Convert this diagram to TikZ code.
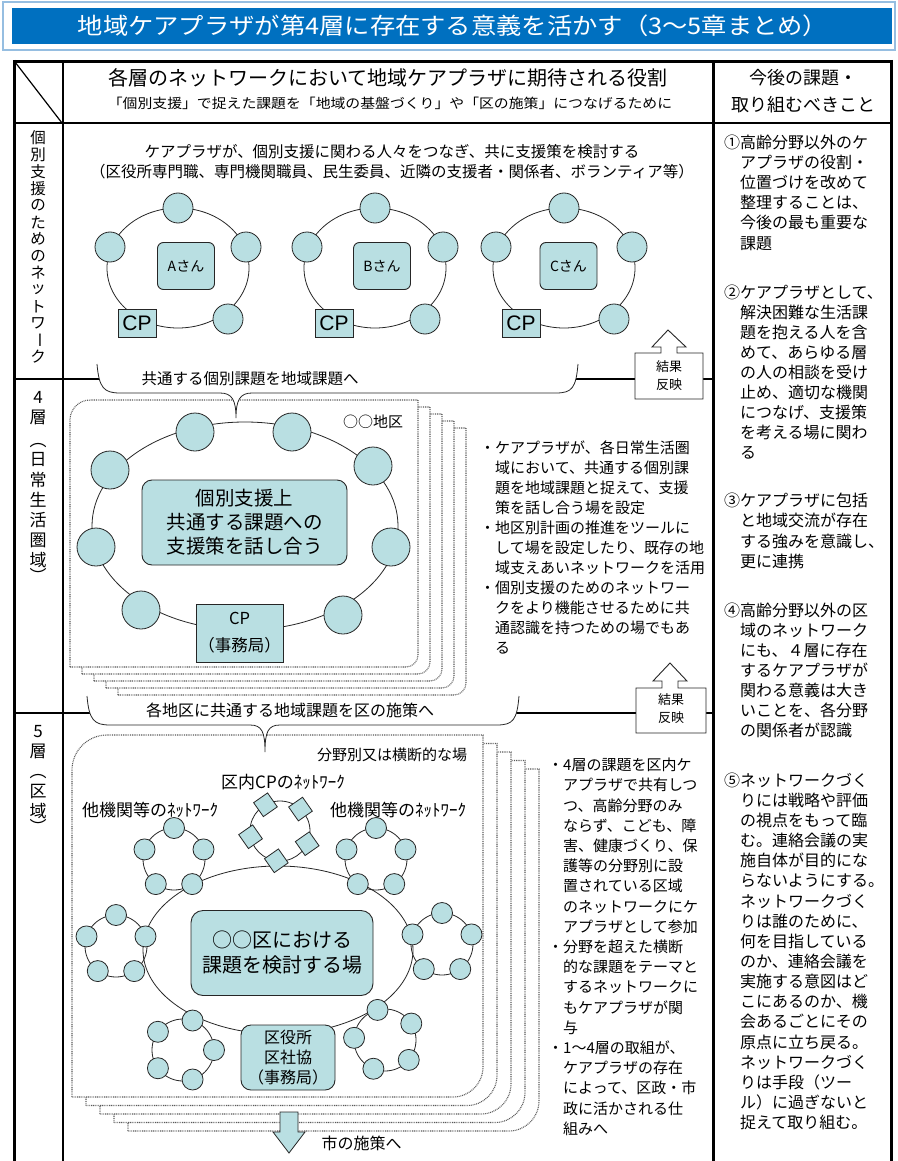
\documentclass[tikz,border=0pt]{standalone}
\usepackage{fontspec}
\setmainfont{Noto Sans CJK JP}
\newfontfamily\arialf{Liberation Sans}
\usetikzlibrary{calc}
\definecolor{tealc}{RGB}{185,223,226}
\definecolor{titleblue}{RGB}{0,112,192}
\definecolor{framebl}{RGB}{150,190,225}
\newcommand\jfs[2]{\fontsize{#1}{#2}\selectfont}
\newcommand\vbar{\rotatebox[origin=c]{-90}{ー}}
\newcommand\pgpath[6]{({#1},{#4}) -- ({#1},{#2+#5}) .. controls ({#1},{#2+0.45*#5}) and ({#1+0.45*#5},{#2}) .. ({#1+#5},{#2}) -- ({#3},{#2}) -- ({#3},{#4-#6}) .. controls ({#3},{#4-0.45*#6}) and ({#3-0.45*#6},{#4}) .. ({#3-#6},{#4}) -- cycle}
\tikzset{
  pagest/.style={draw=black!65, dash pattern=on 0.9pt off 0.9pt, line width=1.1pt, fill=white},
  net/.style={draw=black!85, line width=0.8pt},
  bigc/.style={circle, fill=tealc, draw=black!85, line width=0.8pt, minimum size=38pt, inner sep=0pt},
  midc/.style={circle, fill=tealc, draw=black!85, line width=0.8pt, minimum size=30pt, inner sep=0pt},
  smc/.style={circle, fill=tealc, draw=black!85, line width=0.8pt, minimum size=21pt, inner sep=0pt},
  dia/.style={rectangle, fill=tealc, draw=black!85, line width=0.8pt, minimum size=17pt, inner sep=0pt, rotate=35},
  tealbox/.style={fill=tealc, draw=black!85, line width=0.9pt, inner sep=0pt},
  t15/.style={font=\jfs{15}{20}, inner sep=0pt, text height=12.9pt, text depth=1.5pt, anchor=west},
  t16/.style={font=\jfs{16}{20}, inner sep=0pt, text height=13.8pt, text depth=1.6pt, anchor=west},
  vt/.style={inner sep=0pt, font=\jfs{15.5}{16}},
  vtb/.style={inner sep=0pt, font=\jfs{17}{18}},
  res/.style={draw=black!85, line width=0.9pt, fill=white},
  brace/.style={draw=black!85, line width=0.8pt, fill=white},
}
\begin{document}
\begin{tikzpicture}[x=1pt,y=-1pt]
\useasboundingbox (0,0) rectangle (897,1161);
% title
\draw[framebl, line width=2.5pt, fill=white] (3,2) rectangle (895,50);
\fill[titleblue] (12,8) rectangle (892,44);
\node[text=white, font=\jfs{23}{26}] (title) at (453,26) {\scalebox{1.1}[1]{地域ケアプラザが第4層に存在する意義を活かす（3～5章まとめ）}};
% table
\draw[line width=3pt] (13,61.5) -- (893,61.5);
\draw[line width=3pt] (14.5,60) -- (14.5,1170);
\draw[line width=3pt] (891.5,60) -- (891.5,1170);
\draw[line width=2pt] (62.5,61) -- (62.5,1170);
\draw[line width=2.5pt] (713.5,61) -- (713.5,1170);
\draw[line width=2pt] (14,123.5) -- (892,123.5);
\draw[line width=2.5pt] (14,379) -- (713,379);
\draw[line width=2.5pt] (14,713) -- (713,713);
\draw[line width=1.2pt] (15,62) -- (62,123);
% header
\node[font=\jfs{20}{24}] (h1) at (388,78) {各層のネットワークにおいて地域ケアプラザに期待される役割};
\node[font=\jfs{13.5}{16}] (h2) at (390,103) {\scalebox{1.1}[1]{「個別支援」で捉えた課題を「地域の基盤づくり」や「区の施策」につなげるために}};
\node[font=\jfs{18}{22}] (h3) at (803,78) {今後の課題・};
\node[font=\jfs{18}{22}] (h4) at (803,105) {取り組むべきこと};
% vertical labels
\foreach \c [count=\i from 0] in {個,別,支,援,の,た,め,の,ネ,ッ,ト,ワ,\vbar,ク}
  \node[vt] (v1-\i) at (38,{138+16.85*\i}) {\c};
\foreach \c/\y [count=\i] in {4/397,層/417,︵/446,日/460,常/480,生/500,活/520,圏/540,域/560,︶/575}
  \node[vtb] (v2-\i) at (38,\y) {\c};
\foreach \c/\y [count=\i] in {5/732,層/751,︵/777,区/792,域/811,︶/826}
  \node[vtb] (v3-\i) at (38,\y) {\c};
% ---------- row 1
\node[font=\jfs{15.5}{20}] (r1a) at (392,152) {ケアプラザが、個別支援に関わる人々をつなぎ、共に支援策を検討する};
\node[font=\jfs{15.5}{20}] (r1b) at (392,172) {（区役所専門職、専門機関職員、民生委員、近隣の支援者・関係者、ボランティア等）};
\foreach \cx/\nm/\off/\cpo in {178/A/8/-41, 375/B/7/-41, 564/C/4.5/-43} {
  \draw[net] (\cx,268) ellipse [x radius=71, y radius=60];
  \node[midc] (\nm-t) at (\cx,208) {};
  \node[midc] (\nm-l) at ({\cx-68},247) {};
  \node[midc] (\nm-r) at ({\cx+68},247) {};
  \node[midc] (\nm-b) at ({\cx+50},319) {};
  \node[tealbox, rounded corners=6pt, minimum width=57pt, minimum height=47pt, font=\jfs{14}{16}] (\nm-p) at ({\cx+\off},266) {\nm さん};
  \node[tealbox, minimum width=38pt, minimum height=28pt, font=\arialf\fontsize{21}{24}\selectfont] (\nm-cp) at ({\cx+\cpo},323) {CP};
}
% ---------- row 2
\foreach \k in {4,3,2,1,0}
  \path[pagest] \pgpath{70+12*\k}{400+7*\k}{418+12*\k}{667+7*\k}{20}{12};
\draw[net] (245,526) ellipse [x radius=153, y radius=104];
\foreach \x/\y [count=\i] in {195/432, 292/432, 373/466, 391/547, 343/615, 141/610, 96/547, 110/470}
  \node[bigc] (c4-\i) at (\x,\y) {};
\node[tealbox, rounded corners=10pt, minimum width=205pt, minimum height=85pt, align=center, font=\jfs{19.5}{24}] (c4box) at (244.5,522.5) {個別支援上\\共通する課題への\\支援策を話し合う};
\node[tealbox, minimum width=87pt, minimum height=58pt, align=center, font=\jfs{16.5}{27}] (c4cp) at (239.5,633) {CP\\（事務局）};
\node[font=\jfs{15}{18}] (dist) at (373,422) {○○地区};
% brace 1
\path[brace] (97,364) .. controls (99,388) and (104,393) .. (120,393) -- (220,393) .. controls (232,393) and (236,400) .. (236,418) .. controls (236,400) and (240,393) .. (252,393) -- (556,393) .. controls (572,393) and (576,388) .. (578,364);
\node[font=\jfs{15.5}{18}] (br1) at (250,379) {共通する個別課題を地域課題へ};
% result box 1
\path[res] (635,399) -- (635,353) -- (661,353) -- (661,347) -- (652,347) -- (668,330) -- (686,347) -- (677,347) -- (677,353) -- (703,353) -- (703,399) -- cycle;
\node[font=\jfs{13}{18}, align=center] (kk1) at (669,376) {結果\\反映};
% row 2 text
\foreach \t [count=\i from 0] in {
  \llap{・}ケアプラザが、各日常生活圏,
  域において、共通する個別課,
  題を地域課題と捉えて、支援,
  策を話し合う場を設定,
  \llap{・}地区別計画の推進をツールに,
  して場を設定したり、既存の地,
  域支えあいネットワークを活用,
  \llap{・}個別支援のためのネットワー,
  クをより機能させるために共,
  通認識を持つための場でもあ,
  る}
  \node[t15] (b4-\i) at (495,{448+20*\i}) {\t};
% ---------- row 3
\foreach \k in {4,3,2,1,0}
  \path[pagest] \pgpath{72+14*\k}{735+8.5*\k}{483+14*\k}{1097+8.5*\k}{35}{30};
\draw[net] (278,950) ellipse [x radius=135, y radius=84];
\foreach \cx/\cy/\al/\nm in {174/859/0/tl, 376/859/0/tr, 116/946/0/ml, 442/944/0/mr, 183/1050/-18/bl, 385/1040/14/br} {
  \draw[net] (\cx,\cy) circle [radius=31];
  \foreach \a [count=\j] in {90,18,-54,-126,162}
    \path (\cx,\cy) ++({-(\a+\al)}:31) node[smc] (\nm-\j) {};
}
\draw[net] (280,831) circle [radius=30];
\foreach \a [count=\j] in {119,47,-25,-97,191}
  \path (280,831) ++({-\a}:30) node[dia] (dm-\j) {};
\node[tealbox, rounded corners=12pt, minimum width=182pt, minimum height=85pt, align=center, font=\jfs{20}{25}] (c5box) at (282,953) {○○区における\\課題を検討する場};
\node[tealbox, rounded corners=10pt, minimum width=94pt, minimum height=65pt, align=center, font=\jfs{16}{20}] (c5ku) at (288,1057.5) {区役所\\区社協\\（事務局）};
\node[font=\jfs{15}{18}] (l5a) at (392,755) {分野別又は横断的な場};
\node[font=\jfs{17}{18}] (l5b) at (283,782) {区内CPのﾈｯﾄﾜｰｸ};
\node[font=\jfs{17}{18}] (l5c) at (150,810) {他機関等のﾈｯﾄﾜｰｸ};
\node[font=\jfs{17}{18}] (l5d) at (398,810) {他機関等のﾈｯﾄﾜｰｸ};
% brace 2
\path[brace] (87,696) .. controls (89,720) and (94,725) .. (110,725) -- (250,725) .. controls (262,725) and (265,732) .. (265,752) .. controls (265,732) and (268,725) .. (280,725) -- (497,725) .. controls (513,725) and (517,720) .. (519,696);
\node[font=\jfs{16}{18}] (br2) at (290,710) {各地区に共通する地域課題を区の施策へ};
% result box 2
\path[res] (636,733) -- (636,688) -- (662,688) -- (662,681) -- (653,681) -- (670,663) -- (687,681) -- (678,681) -- (678,688) -- (706,688) -- (706,733) -- cycle;
\node[font=\jfs{13}{18}, align=center] (kk2) at (671,709) {結果\\反映};
% down arrow
\path[draw=black!85, line width=0.8pt, fill=tealc] (280,1112) -- (298,1112) -- (298,1132) -- (305,1132) -- (289,1153) -- (273,1132) -- (280,1132) -- cycle;
\node[font=\jfs{16}{18}, anchor=west] (shi) at (318,1143) {市の施策へ};
% row 3 text
\foreach \t [count=\i from 0] in {
  \llap{・}4層の課題を区内ケ,
  アプラザで共有しつ,
  つ、高齢分野のみ,
  ならず、こども、障,
  害、健康づくり、保,
  護等の分野別に設,
  置されている区域,
  のネットワークにケ,
  アプラザとして参加,
  \llap{・}分野を超えた横断,
  的な課題をテーマと,
  するネットワークに,
  もケアプラザが関,
  与,
  \llap{・}1～4層の取組が、,
  ケアプラザの存在,
  によって、区政・市,
  政に活かされる仕,
  組みへ}
  \node[t15] (b5-\i) at (563,{765+20.2*\i}) {\t};
% right column
\foreach \t [count=\i from 0] in {
  \llap{①}高齢分野以外のケ,
  アプラザの役割・,
  位置づけを改めて,
  整理することは、,
  今後の最も重要な,
  課題}
  \node[t16] (k1-\i) at (740,{142+20.2*\i}) {\t};
\foreach \t [count=\i from 0] in {
  \llap{②}ケアプラザとして、,
  解決困難な生活課,
  題を抱える人を含,
  めて、あらゆる層,
  の人の相談を受け,
  止め、適切な機関,
  につなげ、支援策,
  を考える場に関わ,
  る}
  \node[t16] (k2-\i) at (740,{292+20*\i}) {\t};
\foreach \t [count=\i from 0] in {
  \llap{③}ケアプラザに包括,
  と地域交流が存在,
  する強みを意識し、,
  更に連携}
  \node[t16] (k3-\i) at (740,{500+20.5*\i}) {\t};
\foreach \t [count=\i from 0] in {
  \llap{④}高齢分野以外の区,
  域のネットワーク,
  にも、４層に存在,
  するケアプラザが,
  関わる意義は大き,
  いことを、各分野,
  の関係者が認識}
  \node[t16] (k4-\i) at (740,{610+20*\i}) {\t};
\foreach \t [count=\i from 0] in {
  \llap{⑤}ネットワークづく,
  りには戦略や評価,
  の視点をもって臨,
  む。連絡会議の実,
  施自体が目的にな,
  らないようにする。,
  ネットワークづく,
  りは誰のために、,
  何を目指している,
  のか、連絡会議を,
  実施する意図はど,
  こにあるのか、機,
  会あるごとにその,
  原点に立ち戻る。,
  ネットワークづく,
  りは手段（ツー,
  ル）に過ぎないと,
  捉えて取り組む。}
  \node[t16] (k5-\i) at (740,{780+20.15*\i}) {\t};
\end{tikzpicture}
\end{document}
